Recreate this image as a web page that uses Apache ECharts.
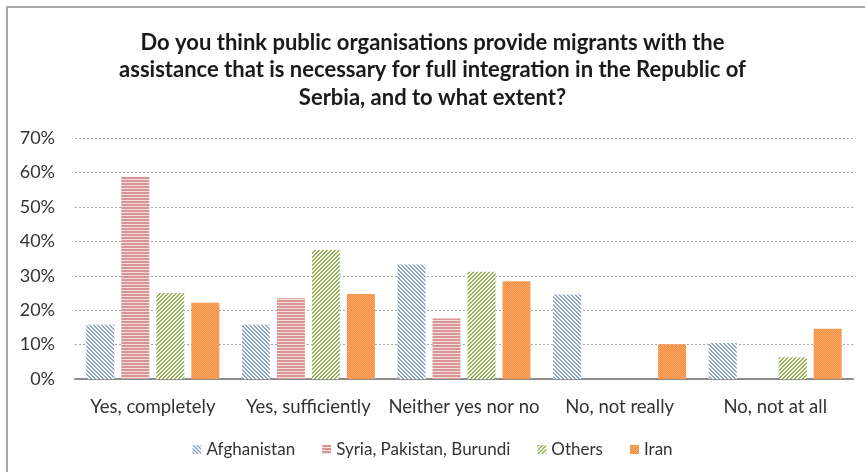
<!DOCTYPE html>
<html>
<head>
<meta charset="utf-8">
<script src="https://cdn.jsdelivr.net/npm/echarts@6/dist/echarts.min.js"></script>
<style>
  html, body { margin: 0; padding: 0; background: #fff; }
  #chart { width: 865px; height: 472px; }
</style>
</head>
<body>
<div id="chart"></div>
<script>
// Survey answers, share of respondents per group (%)
const categories = ['Yes, completely', 'Yes, sufficiently', 'Neither yes nor no', 'No, not really', 'No, not at all'];
const groupNames = ['Afghanistan', 'Syria, Pakistan, Burundi', 'Others', 'Iran'];
const afghanistan = [15.8, 15.8, 33.3, 24.6, 10.5];
const syriaPakistanBurundi = [58.8, 23.5, 17.6, 0, 0];
const others = [25.0, 37.5, 31.2, 0, 6.3];
const iran = [22.2, 24.7, 28.4, 10.1, 14.6];
const yTicks = [0, 10, 20, 30, 40, 50, 60, 70];

// Build small repeating pixel patterns for the hatched fills
function makePattern(size, bg, fg, test) {
  const c = document.createElement('canvas');
  c.width = size; c.height = size;
  const ctx = c.getContext('2d');
  ctx.fillStyle = bg;
  ctx.fillRect(0, 0, size, size);
  ctx.fillStyle = fg;
  for (let y = 0; y < size; y++) {
    for (let x = 0; x < size; x++) {
      if (test(x, y, size)) ctx.fillRect(x, y, 1, 1);
    }
  }
  return { image: c, repeat: 'repeat' };
}

const patterns = [
  // back-slash diagonal, blue-grey
  makePattern(4, '#ffffff', '#8aa6c8', (x, y, s) => ((x - y + s * 4) % s) < 2),
  // horizontal lines, pink
  makePattern(3, '#f4dede', '#d99594', (x, y) => y < 2),
  // forward-slash diagonal, green
  makePattern(4, '#ffffff', '#93b451', (x, y, s) => ((x + y) % s) < 2),
  // fine dotted orange
  makePattern(2, '#f58f3f', '#f8a866', (x, y) => (x + y) % 2 === 0)
];

const seriesData = [afghanistan, syriaPakistanBurundi, others, iran];

const chart = echarts.init(document.getElementById('chart'), null, { renderer: 'canvas' });

chart.setOption({
  backgroundColor: '#ffffff',
  animation: false,
  graphic: [{
    type: 'rect',
    shape: { x: 7, y: 7, width: 880, height: 500 },
    style: { fill: 'none', stroke: '#8c8c8c', lineWidth: 1.5 },
    silent: true
  }],
  title: {
    text: 'Do you think public organisations provide migrants with the\nassistance that is necessary for full integration in the Republic of\nSerbia, and to what extent?',
    left: 'center',
    top: 24,
    textStyle: {
      fontFamily: 'Lato',
      fontWeight: 'bold',
      fontSize: 22,
      lineHeight: 27.5,
      color: '#1a1a1a'
    }
  },
  legend: {
    data: groupNames,
    left: 'center',
    top: 436,
    itemWidth: 9,
    itemHeight: 9,
    itemGap: 27,
    icon: 'rect',
    textStyle: { fontFamily: 'Lato', fontSize: 17, color: '#333' }
  },
  grid: { left: 75, right: 12, top: 138.3, bottom: 93, containLabel: false },
  xAxis: {
    type: 'category',
    data: categories,
    axisLine: { lineStyle: { color: '#8c8c8c', width: 2 } },
    axisTick: { show: false },
    axisLabel: { fontFamily: 'Lato', fontSize: 18.5, color: '#333', margin: 19, interval: 0 }
  },
  yAxis: {
    type: 'value',
    min: 0,
    max: yTicks[yTicks.length - 1],
    interval: 10,
    axisLine: { show: false },
    axisTick: { show: false },
    splitLine: { lineStyle: { color: '#a6a6a6', type: [2, 2], width: 1 } },
    axisLabel: {
      fontFamily: 'Lato', fontSize: 18, color: '#333', margin: 20,
      formatter: v => v + '%'
    }
  },
  series: groupNames.map((name, i) => ({
    name: name,
    type: 'bar',
    data: seriesData[i],
    barWidth: 28,
    barGap: '25%',
    itemStyle: { color: patterns[i] }
  }))
});
</script>
</body>
</html>
